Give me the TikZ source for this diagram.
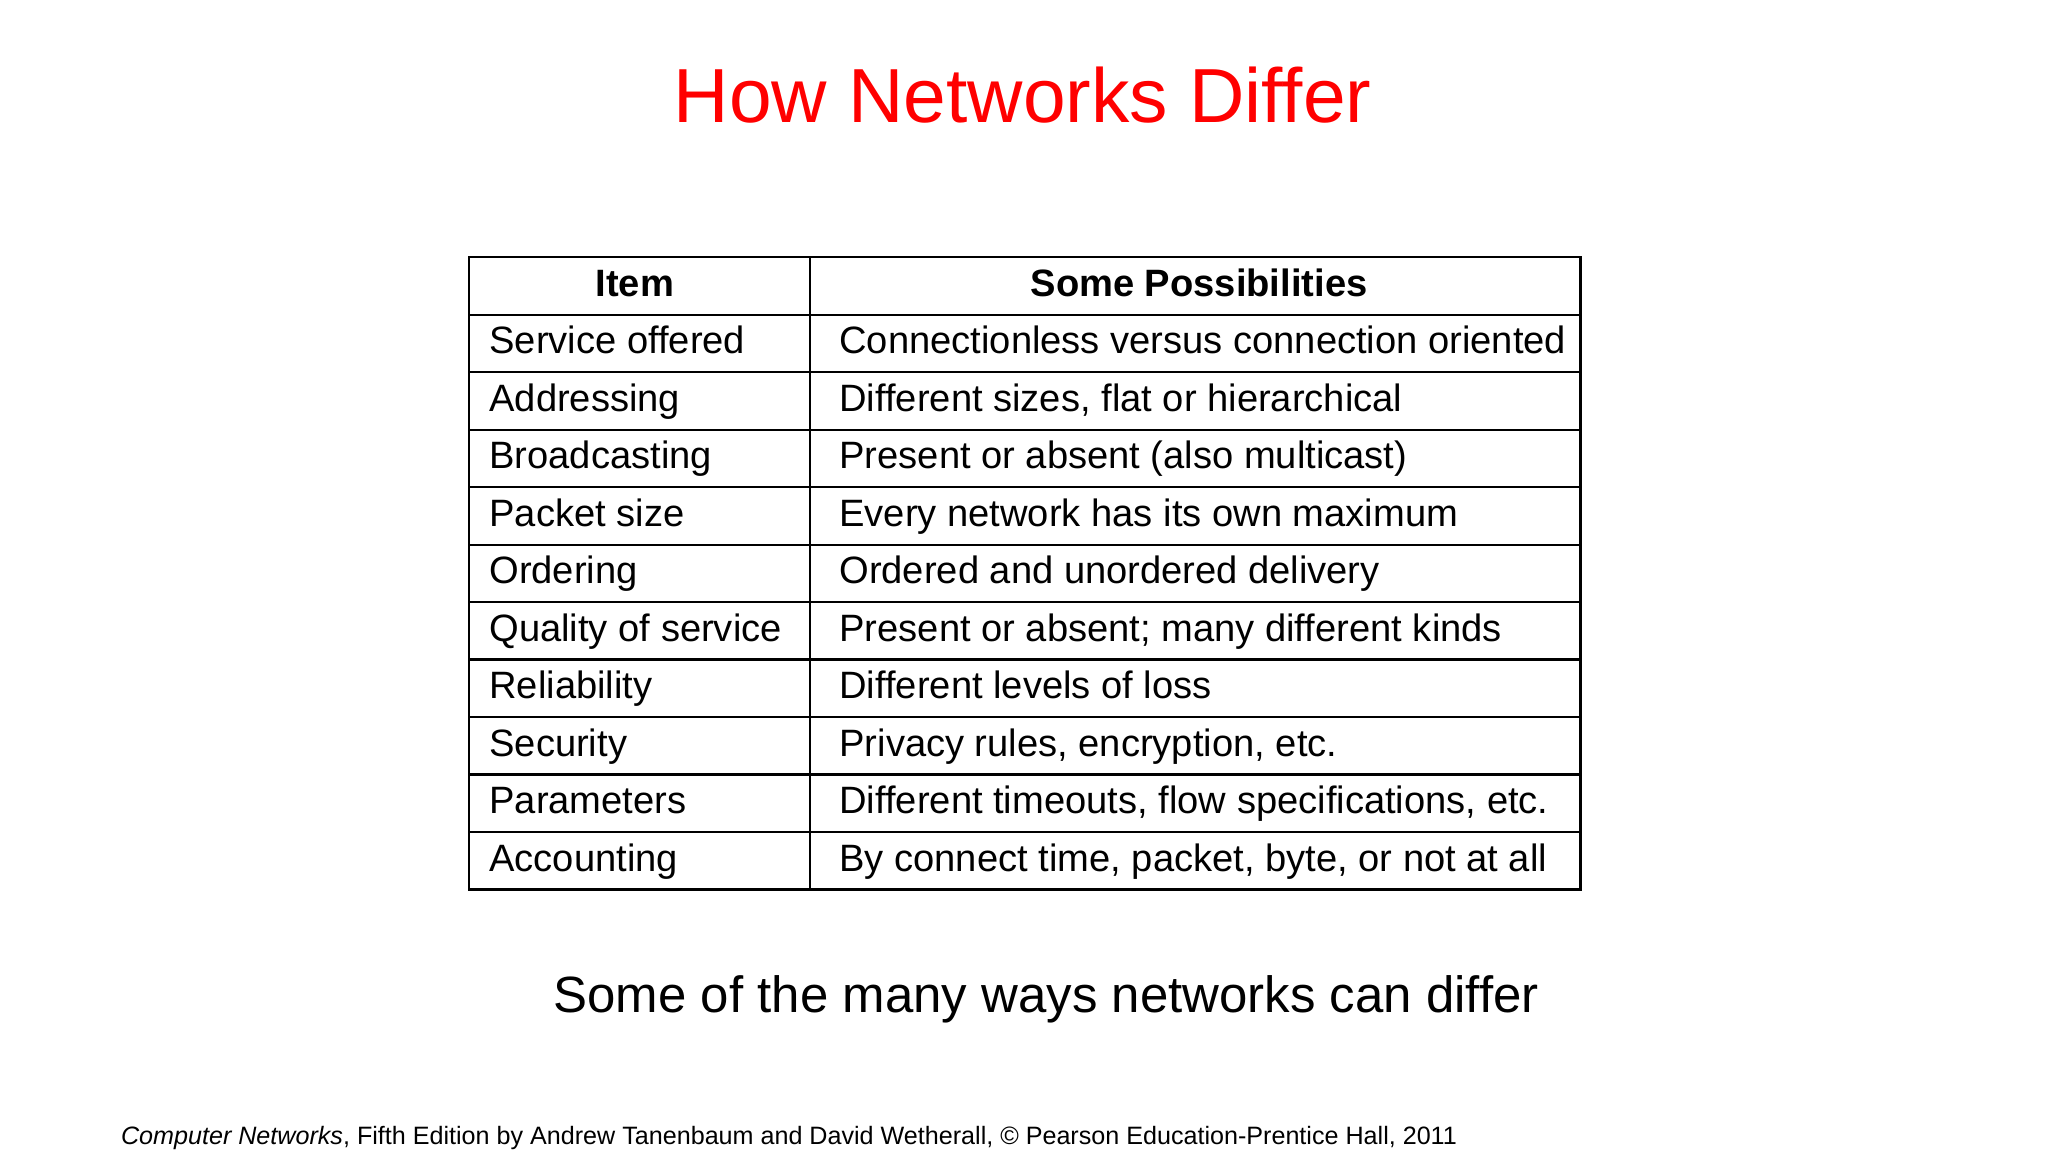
\documentclass[tikz,border=0pt]{standalone}
\usepackage{fontspec}
\setmainfont{Liberation Sans}
\begin{document}
\begin{tikzpicture}[x=0.01cm,y=-0.01cm,
  cell/.style={anchor=base west,inner sep=0pt,font=\fontsize{8.3pt}{9pt}\selectfont},
  head/.style={anchor=base,inner sep=0pt,font=\fontsize{8.3pt}{9pt}\selectfont\bfseries}]
\useasboundingbox[fill=white] (0,0) rectangle (1568,882);
\node[text=red,font=\fontsize{16.7pt}{20pt}\selectfont] (title) at (783,73) {How Networks Differ};
\draw[line width=0.5pt] (359,197) rectangle (1210,681);
\draw[line width=0.5pt] (620,197) -- (620,681);
\foreach \i in {1,...,10} \draw[line width=0.5pt] (359,197+44*\i) -- (1210,197+44*\i);
\node[head] (h1) at (486,227) {Item};
\node[head] (h2) at (918,227) {Some Possibilities};
\foreach [count=\i] \a/\b in {Service offered/Connectionless versus connection oriented,
 Addressing/{Different sizes, flat or hierarchical},
 Broadcasting/Present or absent (also multicast),
 Packet size/Every network has its own maximum,
 Ordering/Ordered and unordered delivery,
 Quality of service/Present or absent; many different kinds,
 Reliability/Different levels of loss,
 Security/{Privacy rules, encryption, etc.},
 Parameters/{Different timeouts, flow specifications, etc.},
 Accounting/{By connect time, packet, byte, or not at all}}
 { \node[cell] (l\i) at (374,227+44*\i) {\a};
   \node[cell] (r\i) at (642,227+44*\i) {\b}; }
\node[font=\fontsize{11.1pt}{12pt}\selectfont] (sub) at (801,765) {Some of the many ways networks can differ};
\node[anchor=base west,inner sep=0pt,font=\fontsize{5.47pt}{7pt}\selectfont] (foot) at (92,876) {\textit{Computer Networks}, Fifth Edition by Andrew Tanenbaum and David Wetherall, © Pearson Education-Prentice Hall, 2011};
\end{tikzpicture}
\end{document}
